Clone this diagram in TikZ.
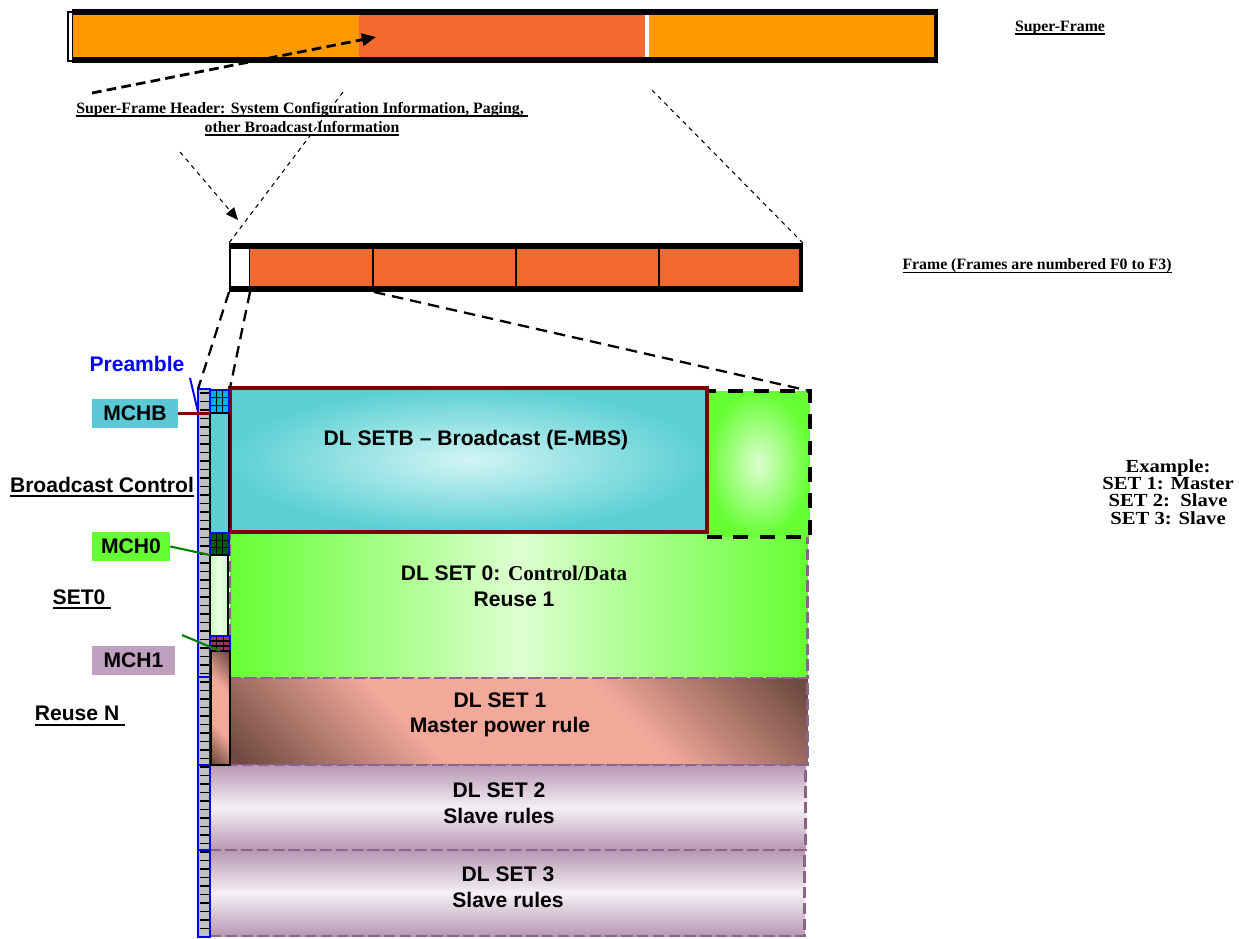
\documentclass[tikz,border=0pt]{standalone}
\usepackage{fontspec}
\setmainfont{Liberation Serif}
\setsansfont{Liberation Sans}
\newfontfamily\wideserif[FakeStretch=1.12]{Liberation Serif}
\usepackage{xcolor}
\usepackage{tikz}
\usetikzlibrary{arrows.meta, calc, positioning}

\newcommand{\sansul}[1]{\setbox0\hbox{#1}\rlap{\rule[-2.6pt]{\wd0}{1.1pt}}\box0}
\newcommand{\serul}[1]{\setbox0\hbox{#1}\rlap{\rule[-2pt]{\wd0}{0.9pt}}\box0}
\newcommand{\tightlines}{\lineskiplimit=-20pt\relax}

\definecolor{sforange}{HTML}{FF9900}
\definecolor{sfred}{HTML}{F26A30}
\definecolor{turq}{HTML}{5BD0D4}
\definecolor{turqlight}{HTML}{D2F4F4}
\definecolor{mchbfill}{HTML}{5BC8D6}
\definecolor{lgreen}{HTML}{66FF33}
\definecolor{lgreenpale}{HTML}{DDFFD0}
\definecolor{ctlgreen}{HTML}{C8FFC0}
\definecolor{gridgreen}{HTML}{005A00}
\definecolor{gridpurple}{HTML}{993366}
\definecolor{mchonefill}{HTML}{BFA0BF}
\definecolor{darkred}{HTML}{800000}
\definecolor{linegreen}{HTML}{008000}
\definecolor{purp}{HTML}{8C6488}
\definecolor{salmon}{HTML}{F2A99A}
\definecolor{sbrown}{HTML}{6E4A40}
\definecolor{mauve}{HTML}{B797B4}
\definecolor{mauvepale}{HTML}{F5F0F5}
\definecolor{greycell}{HTML}{C0C0C0}

\pgfdeclarehorizontalshading{salmonband}{100bp}{color(0bp)=(sbrown); color(16bp)=(sbrown);
    color(38bp)=(salmon); color(62bp)=(salmon); color(84bp)=(sbrown); color(100bp)=(sbrown)}

\tikzset{
    cell/.style={rectangle, inner sep=0pt, outer sep=0pt, anchor=north west},
    sfseg/.style={cell, minimum height=0.84cm},
    frseg/.style={cell, minimum height=0.74cm, fill=sfred},
    setblock/.style={cell, draw=purp, line width=1.6pt, dash pattern=on 6.5pt off 2.5pt},
    ctlbox/.style={cell, draw=black, line width=1pt},
    mchgrid/.style={cell, draw=blue, line width=1.1pt},
    tag/.style={rectangle, inner sep=0pt, minimum height=0.58cm,
        font=\sffamily\bfseries\fontsize{12}{14}\selectfont},
    ultext/.style={font=\sffamily\bfseries\fontsize{12}{14}\selectfont},
    settext/.style={align=center, font=\sffamily\bfseries\fontsize{12}{14.5}\selectfont},
    sertext/.style={align=center, font=\bfseries\fontsize{9}{10.8}\selectfont},
    bigdash/.style={line width=1.6pt, dash pattern=on 5.5pt off 3pt},
    zoomdash/.style={line width=1.3pt, dash pattern=on 6.5pt off 4pt},
    thindash/.style={line width=0.6pt, dash pattern=on 2.5pt off 2.5pt},
}

\begin{document}
\begin{tikzpicture}[x=0.02cm, y=-0.02cm]
    \useasboundingbox (0,0) rectangle (1239,938);

    % super-frame
    \node[cell, fill=black, minimum width=17.32cm, minimum height=1.08cm] (sf) at (72,9) {};
    \node[cell, fill=white, draw=black, line width=0.6pt, minimum width=0.1cm, minimum height=0.98cm] (sfcap) at (68,12) {};
    \node[sfseg, fill=sforange, minimum width=5.72cm] (sfa) at (73,15) {};
    \node[sfseg, fill=sfred, minimum width=5.72cm] (sfb) at (359,15) {};
    \node[sfseg, fill=white, minimum width=0.08cm] (sfgap) at (645,15) {};
    \node[sfseg, fill=sforange, minimum width=5.70cm] (sfc) at (649,15) {};

    % frame
    \node[cell, fill=black, minimum width=11.48cm, minimum height=0.98cm] (frame) at (229,243) {};
    \node[frseg, fill=white, minimum width=0.36cm] (fh) at (231,249) {};
    \node[frseg, minimum width=2.44cm] (f0) at (250,249) {};
    \node[frseg, minimum width=2.82cm] (f1) at (374,249) {};
    \node[frseg, minimum width=2.82cm] (f2) at (517,249) {};
    \node[frseg, minimum width=2.78cm] (f3) at (660,249) {};

    % sets
    \node[setblock, left color=lgreen, right color=lgreen, middle color=lgreenpale,
        minimum width=11.56cm, minimum height=2.90cm] (set0) at (230,533) {};
    \node[setblock, shading=salmonband, shading angle=45,
        minimum width=11.56cm, minimum height=1.74cm] (set1) at (230,678) {};
    \node[setblock, top color=mauve, bottom color=mauve, middle color=mauvepale,
        minimum width=11.92cm, minimum height=1.70cm] (set2) at (210,765) {};
    \node[setblock, top color=mauve, bottom color=mauve, middle color=mauvepale,
        minimum width=11.90cm, minimum height=1.72cm] (set3) at (210,850) {};
    \node[cell, inner color=lgreenpale, outer color=lgreen, draw=black, line width=1.9pt,
        dash pattern=on 8.5pt off 6.5pt, minimum width=2.06cm, minimum height=2.92cm] (bext) at (707,391) {};
    \node[cell, inner color=turqlight, outer color=turq, draw=darkred, line width=2.2pt,
        minimum width=9.54cm, minimum height=2.88cm] (setb) at (230,388) {};

    % preamble column
    \node[cell, fill=greycell, draw=blue, line width=1.1pt, minimum width=0.24cm, minimum height=10.96cm] (pre) at (198,389) {};
    \foreach \k in {0,...,63}
        \draw[black, line width=1.1pt] (199.5,393+8.5*\k) -- (208.5,393+8.5*\k);
    \foreach \yy in {677,765,850}
        \draw[blue, line width=1.1pt] (198,\yy) -- (210,\yy);

    % control column
    \node[mchgrid, fill=cyan, minimum width=0.38cm, minimum height=0.46cm] (gB) at (210,390) {};
    \node[ctlbox, fill=turq, minimum width=0.38cm, minimum height=2.40cm] (cB) at (210,413) {};
    \node[mchgrid, fill=gridgreen, minimum width=0.38cm, minimum height=0.44cm] (g0) at (210,533) {};
    \node[ctlbox, left color=ctlgreen, right color=ctlgreen, middle color=white!60!ctlgreen,
        minimum width=0.36cm, minimum height=1.62cm] (c0) at (210,555) {};
    \node[mchgrid, fill=gridpurple, minimum width=0.40cm, minimum height=0.30cm] (g1) at (210,636) {};
    \node[ctlbox, shading=salmonband, shading angle=45, minimum width=0.38cm, minimum height=2.28cm] (c1) at (211,651) {};
    \foreach \g in {gB,g0,g1} {
        \foreach \f in {0.333,0.667} {
            \draw[black, line width=0.6pt] ($(\g.north west)!\f!(\g.north east)$) -- ($(\g.south west)!\f!(\g.south east)$);
            \draw[black, line width=0.6pt] ($(\g.north west)!\f!(\g.south west)$) -- ($(\g.north east)!\f!(\g.south east)$);
        }
    }

    % labels on the left
    \node[ultext, text=blue] (pream) at (137,364) {Preamble};
    \coordinate (pfoot) at (190,378);
    \coordinate (ptip) at (198,412);
    \draw[blue, line width=1.1pt] (pfoot) -- (ptip);
    \node[tag, fill=mchbfill, minimum width=1.72cm] (mchb) at (135,413.5) {MCHB};
    \draw[darkred, line width=1.2pt] (mchb.east) -- (mchb.east -| cB.west);
    \node[ultext] (bctl) at (102,487) {\sansul{Broadcast Control}};
    \node[tag, fill=lgreen, minimum width=1.56cm] (mch0) at (131,546.5) {MCH0};
    \draw[linegreen, line width=1.2pt] (mch0.east) -- (c0.north west);
    \node[ultext] (setzero) at (82,599) {\sansul{SET0\ }};
    \node[tag, fill=mchonefill, minimum width=1.66cm] (mch1) at (133.5,660.5) {MCH1};
    \coordinate (monefoot) at (182,635);
    \draw[linegreen, line width=1.2pt] (monefoot) -- (g1.south);
    \node[ultext] (reusen) at (80,716) {\sansul{Reuse N\ }};

    % set texts
    \node[settext] (tsetb) at (476,440) {DL SETB – Broadcast (E-MBS)};
    \node[settext] (tset0) at (514,586) {DL SET 0: {\rmfamily Control/Data}\\Reuse 1};
    \node[settext] (tset1) at (500,715) {DL SET 1\\Master power rule};
    \node[settext] (tset2) at (499,803) {DL SET 2\\Slave rules};
    \node[settext] (tset3) at (508,887) {DL SET 3\\Slave rules};

    % zoom lines
    \draw[zoomdash] (frame.south west) -- (pre.north west);
    \draw[zoomdash] (f0.south west |- frame.south) -- (setb.north west);
    \draw[zoomdash] (f1.south west |- frame.south) -- (bext.north east);
    \coordinate (sbfoot) at (343,92);
    \coordinate (scfoot) at (652,90);
    \draw[thindash] (sbfoot) -- (frame.north west);
    \draw[thindash] (scfoot) -- (frame.north east);

    % header
    \node[sertext] (hdr) at (302,119) {\serul{Super-Frame Header: System Configuration Information, Paging,\ }\\\serul{other Broadcast Information}};
    \coordinate (hdrtail) at (92,93);
    \coordinate (sfbtip) at (376,37);
    \draw[bigdash, -{Triangle[length=8pt,width=7pt]}] (hdrtail) -- (sfbtip);
    \coordinate (hdrfoot) at (180,152);
    \coordinate (fhtip) at (238,220);
    \draw[thindash, -{Triangle[length=7pt,width=6pt]}] (hdrfoot) -- (fhtip);

    % right texts
    \node[sertext] (sflbl) at (1060,28) {\serul{Super-Frame}};
    \node[sertext] (frlbl) at (1037,266) {\serul{Frame (Frames are numbered F0 to F3)}};
    \node[align=center, font={\wideserif\bfseries\fontsize{10.5}{9.9}\selectfont\tightlines}] (expl) at (1168,492)
        {Example:\\SET 1: Master\\SET 2:\ \ Slave\\SET 3: Slave};
\end{tikzpicture}
\end{document}
